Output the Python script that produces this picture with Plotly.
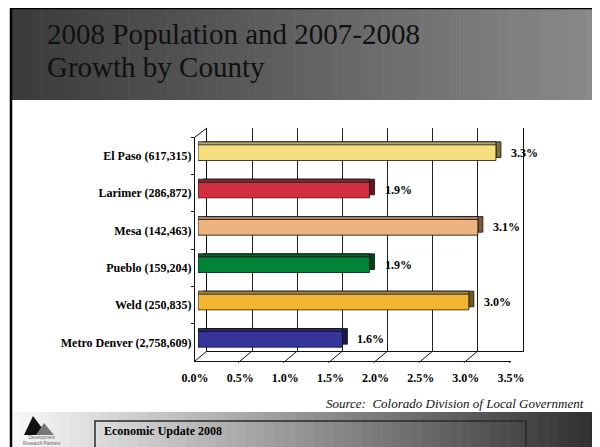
import plotly.graph_objects as go

W, H = 600, 447
# the page body adds an 8px margin around the figure; layout below is in page pixels
OFF = 8
SERIF = "Liberation Serif, Times New Roman, serif"

# data
counties = ["El Paso", "Larimer", "Mesa", "Pueblo", "Weld", "Metro Denver"]
population = [617315, 286872, 142463, 159204, 250835, 2758609]
growth = [3.3, 1.9, 3.1, 1.9, 3.0, 1.6]
tick_vals = [0.0, 0.5, 1.0, 1.5, 2.0, 2.5, 3.0, 3.5]
tick_text = ["0.0%", "0.5%", "1.0%", "1.5%", "2.0%", "2.5%", "3.0%", "3.5%"]
bar_colors = ["#F6E07E", "#D12F3F", "#ECB27F", "#008435", "#F1B531", "#343499"]

labels = [f"{c} ({p:,})" for c, p in zip(counties, population)]


def shade(hex_color, f):
    r, g, b = (int(hex_color[i:i + 2], 16) for i in (1, 3, 5))
    return "#%02x%02x%02x" % (int(r * f), int(g * f), int(b * f))


def mix(c1, c2, t):
    a = [int(c1[i:i + 2], 16) for i in (1, 3, 5)]
    b = [int(c2[i:i + 2], 16) for i in (1, 3, 5)]
    return "#%02x%02x%02x" % tuple(int(a[k] + (b[k] - a[k]) * t) for k in range(3))


def px(x):
    return (x - OFF) / W


def py(y):
    return 1 - (y - OFF) / H


def dx(a, b):
    return [px(a), px(b)]


def dy(top, bottom):
    return [py(bottom), py(top)]


fig = go.Figure()

# invisible traces so the back wall and front plane axes get drawn
fig.add_trace(go.Scatter(x=tick_vals, y=[0] * len(tick_vals), mode="markers",
                         marker=dict(opacity=0), hoverinfo="skip", showlegend=False))
fig.add_trace(go.Scatter(x=growth, y=labels, xaxis="x2", yaxis="y2", mode="markers",
                         marker=dict(opacity=0), hoverinfo="skip", showlegend=False))

# 3D bars: side face, top face, front face on shifted axes
layers = [("x3", "y3", [shade(c, 0.5) for c in bar_colors]),
          ("x4", "y4", [shade(c, 0.75) for c in bar_colors]),
          ("x5", "y5", bar_colors)]
for xa, ya, cols in layers:
    fig.add_trace(go.Bar(
        x=growth, y=labels, orientation="h", xaxis=xa, yaxis=ya, width=0.42,
        marker=dict(color=cols, line=dict(color="#111", width=0.8)),
        hovertemplate="%{y}: %{x:.1f}%<extra></extra>", showlegend=False))

hidden = dict(visible=False, automargin=False)
fig.update_layout(
    template="none",
    width=W, height=H, margin=dict(l=0, r=0, t=0, b=0, pad=0, autoexpand=False),
    paper_bgcolor="white", plot_bgcolor="rgba(0,0,0,0)",
    font=dict(family=SERIF, color="black", size=12),
    # back wall
    xaxis=dict(domain=dx(207, 523), range=[0, 3.5], anchor="y", tickvals=tick_vals,
               showticklabels=False, ticks="", showgrid=True, gridcolor="#222", gridwidth=1,
               zeroline=False, showline=True, linecolor="#111", linewidth=1, automargin=False),
    yaxis=dict(domain=dy(128, 351), range=[0, 1], anchor="x", showgrid=False,
               showticklabels=False, ticks="", zeroline=False, showline=True, mirror=True,
               linecolor="#111", linewidth=1, automargin=False),
    # front plane
    xaxis2=dict(domain=dx(195, 511), range=[0, 3.5], anchor="y2", tickvals=tick_vals,
                ticktext=tick_text, ticks="", showgrid=False, zeroline=False,
                showline=True, linecolor="#111", linewidth=1, ticklabelstandoff=6,
                automargin=False,
                tickfont=dict(family=SERIF, size=12, weight="bold", color="black")),
    yaxis2=dict(domain=dy(137, 361), type="category", categoryorder="array",
                categoryarray=labels, range=[5.5, -0.5], anchor="x2", showgrid=False,
                zeroline=False, showline=True, linecolor="#111", linewidth=1,
                ticks="outside", tickson="boundaries", ticklen=3, tickcolor="#111",
                automargin=False,
                tickfont=dict(family=SERIF, size=12, weight="bold", color="black")),
    xaxis3=dict(domain=dx(203, 519), range=[0, 3.5], anchor="y3", **hidden),
    yaxis3=dict(domain=dy(131, 355), type="category", categoryorder="array",
                categoryarray=labels, range=[5.5, -0.5], anchor="x3", **hidden),
    xaxis4=dict(domain=dx(198, 514), range=[0, 3.5], anchor="y4", **hidden),
    yaxis4=dict(domain=dy(131, 355), type="category", categoryorder="array",
                categoryarray=labels, range=[5.5, -0.5], anchor="x4", **hidden),
    xaxis5=dict(domain=dx(198, 514), range=[0, 3.5], anchor="y5", **hidden),
    yaxis5=dict(domain=dy(134, 358), type="category", categoryorder="array",
                categoryarray=labels, range=[5.5, -0.5], anchor="x5", **hidden),
)

shapes = []
# title band gradient
n = 60
for i in range(n):
    x0 = 11 + (597 - 11) * i / n
    x1 = 11 + (597 - 11) * (i + 1) / n + 0.6
    shapes.append(dict(type="rect", xref="paper", yref="paper", x0=px(x0), x1=px(x1),
                       y0=py(100), y1=py(8), fillcolor=mix("#3b3b3b", "#8a8a8a", i / (n - 1)),
                       line=dict(width=0), layer="below"))
# footer gradient
for i in range(n):
    x0 = 11 + (597 - 11) * i / n
    x1 = 11 + (597 - 11) * (i + 1) / n + 0.6
    shapes.append(dict(type="rect", xref="paper", yref="paper", x0=px(x0), x1=px(x1),
                       y0=py(452), y1=py(412), fillcolor=mix("#f8f8f8", "#303030", i / (n - 1)),
                       line=dict(width=0), layer="below"))
# footer box
shapes.append(dict(type="rect", xref="paper", yref="paper", x0=px(95), x1=px(526),
                   y0=py(454), y1=py(421), line=dict(color="#2a2a2a", width=1.5)))
# slide border
shapes.append(dict(type="rect", xref="paper", yref="paper", x0=px(11), x1=px(597),
                   y0=py(460), y1=py(8), line=dict(color="black", width=2.5)))
# logo mountains
shapes.append(dict(type="path", xref="paper", yref="paper",
                   path=f"M {px(24)},{py(435)} L {px(33)},{py(416)} L {px(42)},{py(428)} "
                        f"L {px(38)},{py(435)} Z",
                   fillcolor="#111", line=dict(width=0)))
shapes.append(dict(type="path", xref="paper", yref="paper",
                   path=f"M {px(36)},{py(435)} L {px(44)},{py(423)} L {px(54)},{py(435)} Z",
                   fillcolor="#777", line=dict(width=0)))
# floor depth lines at each tick
for v in tick_vals:
    shapes.append(dict(type="line", xref="x2", xsizemode="pixel", xanchor=v, x0=-2, x1=12,
                       yref="paper", y0=py(362.7), y1=py(351), line=dict(color="#111", width=1)))
# left wall top edge
shapes.append(dict(type="line", xref="paper", yref="paper", x0=px(195), x1=px(207),
                   y0=py(137), y1=py(128), line=dict(color="#111", width=1)))
fig.update_layout(shapes=shapes)

ann = [
    dict(text="2008 Population and 2007-2008", x=px(45), y=py(34), xanchor="left",
         yanchor="middle", font=dict(family=SERIF, size=29, color="#111")),
    dict(text="Growth by County", x=px(45), y=py(67), xanchor="left",
         yanchor="middle", font=dict(family=SERIF, size=29, color="#111")),
    dict(text="<i>Source:\u00a0 Colorado Division of Local Government</i>", x=px(586),
         y=py(403), xanchor="right", yanchor="middle",
         font=dict(family=SERIF, size=13, color="#111")),
    dict(text="<b>Economic Update 2008</b>", x=px(102), y=py(431), xanchor="left",
         yanchor="middle", font=dict(family=SERIF, size=12, color="black")),
    dict(text="Development<br>Research Partners", x=px(21), y=py(440), xanchor="left",
         yanchor="middle", font=dict(family="Liberation Sans, Arial", size=4.5, color="#666")),
]
for a in ann:
    a.update(xref="paper", yref="paper", showarrow=False)
for g, lab in zip(growth, labels):
    ann.append(dict(text=f"<b>{g:.1f}%</b>", x=g, y=lab, xref="x5", yref="y5",
                    xanchor="left", yanchor="middle", xshift=13, showarrow=False,
                    font=dict(family=SERIF, size=12, color="black")))
fig.update_layout(annotations=ann)

fig.write_html("out.html")
